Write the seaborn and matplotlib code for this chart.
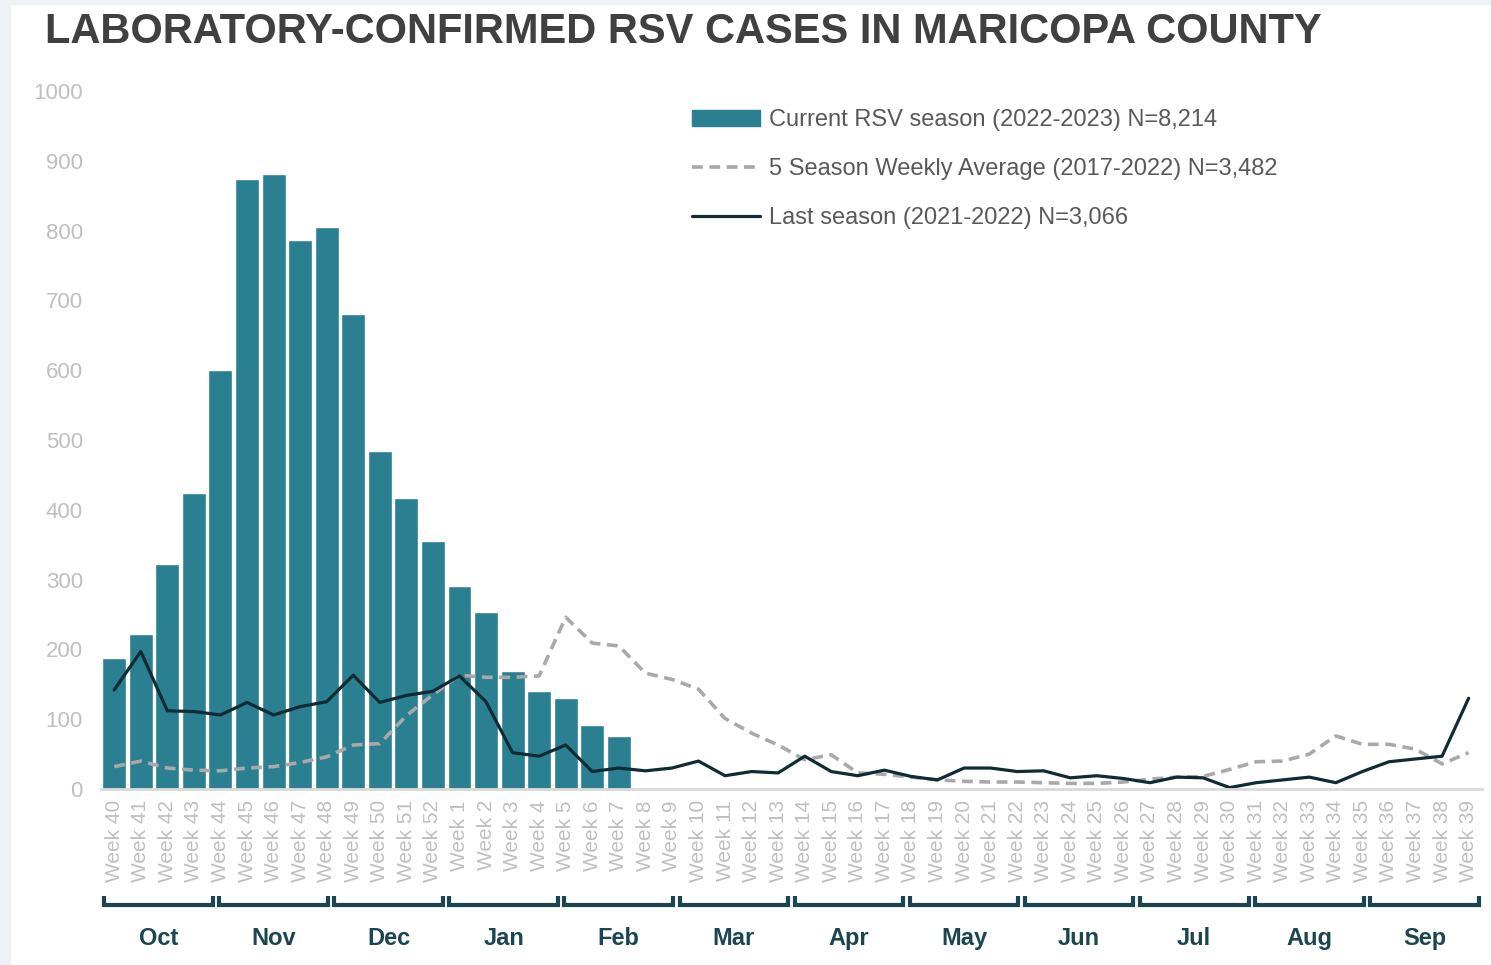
import seaborn as sns
import matplotlib.pyplot as plt
import matplotlib.transforms as mtransforms
import pandas as pd
from matplotlib.patches import Patch, Rectangle
from matplotlib.lines import Line2D

# week axis runs from week 40 to week 39 of the next year
week_nums = list(range(40, 53)) + list(range(1, 40))
weeks = [f"Week {n}" for n in week_nums]
months = ["Oct", "Nov", "Dec", "Jan", "Feb", "Mar", "Apr", "May", "Jun", "Jul", "Aug", "Sep"]

# current season 2022-2023 (weeks 40 .. 7)
current = [188, 222, 322, 424, 600, 874, 881, 786, 805, 680, 484, 417, 355,
           291, 254, 169, 140, 130, 92, 76]

# 5 season weekly average 2017-2022
avg5 = [32, 40, 30, 27, 26, 30, 32, 38, 46, 63, 65, 105, 135,
        163, 160, 160, 162, 246, 209, 205, 166, 157, 143, 101, 80, 63,
        42, 49, 23, 21, 17, 13, 11, 10, 10, 9, 8, 8, 10, 14, 17, 18,
        28, 39, 40, 50, 76, 64, 64, 57, 36, 52]

# last season 2021-2022
last = [142, 197, 112, 111, 106, 124, 106, 118, 125, 163, 124, 134, 140,
        162, 125, 52, 47, 63, 25, 30, 26, 30, 40, 19, 25, 23,
        47, 25, 19, 27, 18, 13, 30, 30, 25, 26, 16, 19, 15, 9, 17, 16,
        2, 9, 13, 17, 9, 25, 39, 43, 47, 130]

labels = ["Current RSV season (2022-2023) N=8,214",
          "5 Season Weekly Average (2017-2022) N=3,482",
          "Last season (2021-2022) N=3,066"]

teal = "#2a7f90"
gray = "#a9a9a9"
dark = "#0f2b33"
navy = "#1b4651"

sns.set_theme(style="white")
plt.rcParams["font.family"] = ["Liberation Sans", "DejaVu Sans"]
narrow = ["Liberation Sans Narrow", "Liberation Sans", "DejaVu Sans"]

fig = plt.figure(figsize=(14.91, 9.65), dpi=100)
fig.patch.set_facecolor("white")
fig.patches.append(Rectangle((0, 0), 10 / 1491, 1, transform=fig.transFigure,
                             color="#eef2f6", zorder=-1))
fig.patches.append(Rectangle((0, 1 - 4 / 965), 1, 4 / 965, transform=fig.transFigure,
                             color="#eef2f6", zorder=-1))

ax = fig.add_axes([0.0677, 0.1824, 0.9262, 0.7233])

df_cur = pd.DataFrame({"week": weeks[:len(current)], "cases": current})
sns.barplot(data=df_cur, x="week", y="cases", order=weeks, color=teal,
            saturation=1, width=0.9, edgecolor="white", linewidth=1, ax=ax)

idx = list(range(len(weeks)))
sns.lineplot(x=idx, y=avg5, color=gray, linewidth=2.6,
             linestyle=(0, (3, 1.8)), ax=ax)
sns.lineplot(x=idx, y=last, color=dark, linewidth=2.3, ax=ax)

ax.set_xlim(-0.5, len(weeks) - 0.5)
ax.set_ylim(0, 1000)
ax.set_yticks(range(0, 1001, 100))
ax.set_xticks(idx)
ax.set_xticklabels(weeks, rotation=90, fontsize=15, color="#bfbfbf")
ax.tick_params(axis="x", length=0, pad=8)
ax.tick_params(axis="y", length=0, pad=13, labelsize=16, labelcolor="#bfbfbf")
ax.set_xlabel("")
ax.set_ylabel("")
for s in ["top", "right", "left"]:
    ax.spines[s].set_visible(False)
ax.spines["bottom"].set_color("#d9d9d9")
ax.spines["bottom"].set_linewidth(2)

# month brackets under the week labels
trans = mtransforms.blended_transform_factory(ax.transData, ax.transAxes)
span = len(weeks) / len(months)
for k, m in enumerate(months):
    x0 = -0.5 + k * span + 0.12
    x1 = -0.5 + (k + 1) * span - 0.12
    ax.plot([x0, x0, x1, x1], [-0.154, -0.166, -0.166, -0.154], transform=trans,
            clip_on=False, color=navy, lw=3, solid_joinstyle="miter",
            solid_capstyle="butt")
    ax.text((x0 + x1) / 2, -0.2135, m, transform=trans, ha="center", va="center",
            fontsize=17, fontweight="bold", color=navy, family=narrow)

handles = [Patch(facecolor=teal, edgecolor=teal),
           Line2D([], [], color=gray, lw=2.6, linestyle=(0, (3, 1.8))),
           Line2D([], [], color=dark, lw=2.3)]
leg = ax.legend(handles, labels, loc="upper left", bbox_to_anchor=(0.428, 0.974),
                frameon=False, fontsize=17, handlelength=2.9, handletextpad=0.35,
                labelspacing=1.15, borderpad=0, borderaxespad=0)
for t in leg.get_texts():
    t.set_color("#595959")

fig.text(0.030, 0.967, "LABORATORY-CONFIRMED RSV CASES IN MARICOPA COUNTY",
         fontsize=30, fontweight="bold", color="#404040", va="center", ha="left")

fig.savefig("out.png", dpi=100)
